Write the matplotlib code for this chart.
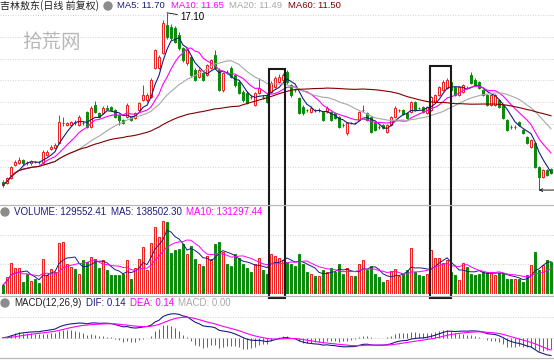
"""
Daily K-line chart for 吉林敖东 with MA lines, volume and MACD panels.
Run: python plot.py
"""

import numpy as np
import pandas as pd
import matplotlib

matplotlib.use("Agg")
import matplotlib.pyplot as plt
from matplotlib.patches import Rectangle, Ellipse

# --- data ---
open_ = [
    9.32, 9.27, 9.50, 10.10, 10.19, 10.33, 10.20, 10.19, 10.25, 10.24,
    10.19, 10.56, 10.84, 10.88, 11.11, 12.03, 11.94, 11.94, 12.05, 11.94,
    12.05, 12.54, 11.85, 12.86, 12.49, 12.49, 12.72, 12.77, 12.63, 12.40,
    12.17, 12.31, 12.31, 12.26, 12.63, 13.09, 13.09, 13.23, 14.56, 14.56,
    15.25, 16.54, 16.45, 16.40, 16.08, 15.48, 14.79, 15.07, 14.47, 14.15,
    14.33, 14.24, 14.56, 15.16, 14.47, 13.55, 14.38, 14.56, 14.24, 13.92,
    13.46, 13.41, 13.24, 12.86, 13.41, 13.24, 13.32, 13.46, 13.69, 13.92,
    14.01, 14.38, 13.78, 13.56, 13.18, 12.77, 12.64, 12.54, 12.64, 12.62,
    12.54, 12.54, 12.54, 12.49, 12.31, 11.95, 11.57, 12.03, 12.05, 12.17,
    12.62, 12.49, 12.31, 12.03, 11.86, 11.94, 11.62, 11.94, 12.31, 12.62,
    12.63, 12.49, 12.54, 13.00, 12.73, 12.77, 12.49, 12.63, 13.00, 13.32,
    13.55, 13.64, 13.92, 13.69, 13.32, 13.46, 13.65, 14.24, 14.01, 13.92,
    13.55, 13.32, 12.86, 12.86, 13.09, 12.86, 12.17, 11.86, 11.84, 12.08,
    11.71, 11.39, 10.93, 11.11, 10.01, 9.55, 9.87, 9.92,
]
close = [
    9.18, 9.50, 10.01, 10.24, 10.33, 10.19, 10.19, 10.28, 10.24, 10.22,
    10.70, 10.70, 10.93, 11.02, 12.08, 12.05, 12.03, 12.08, 12.03, 12.31,
    12.03, 11.85, 12.72, 12.54, 12.31, 12.72, 12.70, 12.63, 12.31, 12.17,
    12.05, 12.86, 12.17, 12.49, 12.95, 13.32, 13.32, 14.01, 15.39, 15.07,
    16.63, 15.99, 15.94, 15.76, 15.48, 14.93, 15.39, 14.24, 14.01, 14.47,
    14.01, 14.70, 14.93, 14.56, 13.55, 14.33, 14.36, 14.15, 13.78, 13.41,
    13.09, 12.95, 13.22, 13.41, 13.64, 13.22, 13.00, 13.87, 14.10, 14.15,
    14.24, 13.92, 13.32, 13.54, 12.49, 12.49, 12.62, 12.72, 12.62, 12.64,
    12.17, 12.72, 12.17, 12.26, 11.85, 11.93, 12.03, 12.05, 12.03, 12.54,
    12.64, 12.17, 11.62, 11.71, 11.84, 11.80, 11.94, 12.31, 12.72, 12.64,
    12.45, 12.26, 13.00, 12.63, 12.71, 12.54, 12.77, 13.23, 13.32, 13.69,
    13.92, 14.01, 13.55, 13.32, 13.69, 13.78, 13.63, 13.87, 13.78, 13.64,
    13.32, 12.86, 13.32, 13.32, 12.77, 12.26, 11.71, 11.84, 11.86, 11.94,
    11.57, 11.11, 11.25, 10.01, 9.55, 9.87, 9.64, 9.74,
]
high = [
    9.41, 9.55, 10.05, 10.35, 10.45, 10.40, 10.28, 10.33, 10.30, 10.30,
    10.80, 10.78, 11.02, 11.10, 12.40, 12.30, 12.10, 12.12, 12.15, 12.40,
    12.12, 12.60, 12.80, 13.05, 12.55, 12.80, 12.85, 12.82, 12.70, 12.45,
    12.22, 12.95, 12.36, 12.55, 13.00, 13.78, 13.40, 14.10, 15.45, 15.15,
    16.75, 17.10, 16.60, 16.50, 16.20, 15.55, 15.45, 15.15, 14.55, 14.55,
    14.40, 14.75, 15.00, 15.40, 14.55, 14.40, 14.45, 14.65, 14.30, 14.00,
    13.55, 13.50, 13.30, 13.46, 14.10, 13.30, 13.40, 13.95, 14.20, 14.30,
    14.35, 14.45, 13.85, 13.62, 13.25, 12.85, 12.70, 12.80, 12.70, 12.72,
    12.60, 12.80, 12.60, 12.55, 12.36, 12.02, 12.08, 12.10, 12.10, 12.60,
    12.86, 12.55, 12.36, 12.08, 11.92, 12.00, 12.00, 12.36, 12.80, 12.70,
    12.68, 12.54, 13.05, 13.05, 12.78, 12.82, 12.82, 13.28, 13.38, 13.75,
    14.00, 14.10, 14.05, 13.75, 13.75, 13.85, 13.72, 14.38, 14.10, 13.98,
    13.60, 13.38, 13.38, 13.38, 13.15, 12.92, 12.22, 11.92, 11.92, 12.12,
    11.76, 11.45, 11.30, 11.16, 10.06, 9.92, 9.92, 9.98,
]
low = [
    9.10, 9.22, 9.45, 10.05, 10.15, 10.12, 10.10, 10.12, 10.18, 10.15,
    10.15, 10.50, 10.80, 10.84, 11.05, 11.90, 11.88, 11.90, 11.95, 11.90,
    11.95, 11.80, 11.80, 12.50, 12.25, 12.45, 12.62, 12.58, 12.26, 11.95,
    12.00, 12.26, 12.12, 12.22, 12.58, 13.05, 13.02, 13.18, 14.50, 14.50,
    15.20, 15.90, 15.85, 15.70, 15.40, 14.85, 14.70, 14.15, 13.95, 14.10,
    13.95, 14.20, 14.50, 14.50, 13.50, 13.45, 14.30, 14.10, 13.70, 13.35,
    13.02, 12.90, 13.15, 12.80, 13.36, 13.15, 12.95, 13.40, 13.64, 13.88,
    13.95, 13.85, 13.25, 13.48, 12.45, 12.42, 12.55, 12.50, 12.55, 12.56,
    12.12, 12.50, 12.12, 12.20, 11.80, 11.86, 11.48, 11.97, 11.97, 12.12,
    12.55, 12.12, 11.57, 11.66, 11.78, 11.75, 11.57, 11.90, 12.26, 12.55,
    12.40, 12.20, 12.50, 12.58, 12.66, 12.50, 12.45, 12.58, 12.95, 13.28,
    13.50, 13.60, 13.50, 13.28, 13.28, 13.42, 13.58, 13.82, 13.74, 13.60,
    13.28, 12.82, 12.82, 12.82, 12.72, 12.20, 11.66, 11.78, 11.78, 11.88,
    11.52, 11.05, 10.88, 9.95, 8.95, 9.50, 9.58, 9.70,
]
# volume in thousands of shares
volume_k = [
    36, 68, 124, 104, 104, 48, 80, 52, 60, 44,
    140, 76, 100, 88, 204, 208, 120, 108, 100, 80,
    136, 128, 148, 140, 104, 136, 96, 76, 76, 76,
    80, 136, 60, 104, 140, 188, 96, 204, 268, 228,
    292, 288, 164, 176, 180, 200, 160, 192, 140, 120,
    112, 152, 140, 200, 208, 168, 120, 112, 160, 144,
    120, 104, 88, 120, 144, 96, 80, 160, 152, 144,
    136, 128, 120, 112, 160, 120, 88, 80, 72, 72,
    96, 88, 104, 88, 120, 80, 104, 72, 72, 120,
    136, 96, 112, 80, 68, 48, 56, 92, 100, 72,
    80, 96, 184, 88, 76, 72, 80, 176, 144, 144,
    124, 136, 88, 76, 56, 124, 108, 80, 76, 80,
    88, 88, 84, 76, 84, 84, 60, 60, 60, 60,
    48, 76, 116, 168, 96, 116, 136, 130,
]

# highlighted boxes: (first candle edge, last candle edge, top price)
boxes = [(66.5, 70.5, 14.52), (106.75, 112.0, 14.65)]

RED = "#ee1c1c"
GREEN = "#0a8a0a"
NAVY = "#1c1c80"
MAGENTA = "#ff00ff"
GREY = "#a8a8a8"
BROWN = "#800000"
GRID = "#c4c4c4"

plt.rcParams["font.family"] = ["Liberation Sans", "Noto Sans CJK SC"]

df = pd.DataFrame({"open": open_, "close": close, "high": high,
                   "low": low, "vol": volume_k})
n = len(df)
x = np.arange(n)
up = (df["close"] >= df["open"]).to_numpy()
edge = np.where(up, RED, GREEN)
face = np.where(up, "white", GREEN)

W, H = 554, 363
fig = plt.figure(figsize=(W / 100, H / 100), dpi=100)


def px_axes(top, bottom):
    a = fig.add_axes([0, 1 - bottom / H, 1, (bottom - top) / H])
    a.set_axis_off()
    a.set_xlim(-0.75, 137.75)
    return a


ax = px_axes(0, 204)
axv = px_axes(205, 294)
axm = px_axes(297, 358)

# --- price panel ---
ax.set_ylim(8.31, 17.69)
for p in range(9, 18):
    ax.axhline(p, color=GRID, lw=0.6, ls=(0, (1, 2)), zorder=0)

ax.vlines(x, df["low"], df["high"], colors=edge, lw=0.7, zorder=2)
body = (df["close"] - df["open"]).abs().clip(lower=0.015)
ax.bar(x, body, bottom=df[["open", "close"]].min(axis=1), width=0.72,
       color=face, edgecolor=edge, lw=0.7, zorder=3)

ma_cfg = [(5, NAVY), (10, MAGENTA), (20, GREY), (60, BROWN)]
for win, col in ma_cfg:
    ax.plot(x, df["close"].rolling(win, min_periods=1).mean(),
            color=col, lw=0.8, zorder=4)

ax.annotate("17.10", xy=(41, 17.10), xytext=(44.3, 16.91), fontsize=7,
            va="center", ha="left",
            arrowprops=dict(arrowstyle="-", lw=0.6, color="black",
                            shrinkA=0, shrinkB=0))
ax.annotate("", xy=(134, 8.95), xytext=(137.9, 8.95),
            arrowprops=dict(arrowstyle="->", lw=0.6, color="black",
                            shrinkA=0, shrinkB=0, mutation_scale=5))

# --- volume panel ---
vtop = 356
axv.set_ylim(0, vtop)
for f in (1 / 3, 2 / 3):
    axv.axhline(vtop * f, color=GRID, lw=0.6, ls=(0, (1, 2)), zorder=0)
vface = np.where(up, "#ffc8c8", GREEN)
axv.bar(x, df["vol"], width=0.72, color=vface, edgecolor=edge, lw=0.7,
        zorder=2)
axv.plot(x, df["vol"].rolling(5, min_periods=1).mean(), color=NAVY, lw=0.7,
         zorder=3)
axv.plot(x, df["vol"].rolling(10, min_periods=1).mean(), color=MAGENTA,
         lw=0.7, zorder=3)

# --- MACD panel ---
ema12 = df["close"].ewm(span=12, adjust=False).mean()
ema26 = df["close"].ewm(span=26, adjust=False).mean()
dif = ema12 - ema26
dea = dif.ewm(span=9, adjust=False).mean()
hist = 2 * (dif - dea)
a = 0.85 * dif.max()
axm.set_ylim(-a, 2 * a)
axm.axhline(a, color=GRID, lw=0.6, ls=(0, (1, 2)), zorder=0)
axm.axhline(0, color=GRID, lw=0.6, ls=(0, (1, 2)), zorder=0)
axm.vlines(x, 0, hist, colors=np.where(hist >= 0, "#c83232", "#2e8b2e"),
           lw=0.7, zorder=2)
axm.plot(x, dif, color=NAVY, lw=0.8, zorder=3)
axm.plot(x, dea, color=MAGENTA, lw=0.8, zorder=3)

# --- panel separators ---
for yp in (205, 296, 358):
    fig.add_artist(plt.Line2D([0, 1], [1 - yp / H] * 2,
                              transform=fig.transFigure, color="#b8b8b8",
                              lw=0.9))

# --- highlight boxes spanning price and volume panels ---
to_fig = fig.transFigure.inverted()
for i0, i1, ptop in boxes:
    x0, y1 = to_fig.transform(ax.transData.transform((i0, ptop)))
    x1, y0 = to_fig.transform(axv.transData.transform((i1, -16)))
    fig.add_artist(Rectangle((x0, y0), x1 - x0, y1 - y0, fill=False,
                             edgecolor="#1a1a1a", lw=1.5,
                             transform=fig.transFigure))


# --- header texts ---
def ftext(xp, yp, s, color="#222222", size=7, **kw):
    fig.text(xp / W, 1 - yp / H, s, color=color, fontsize=size,
             va="center", ha="left", **kw)


def icon(xp, yp):
    fig.add_artist(Ellipse((xp / W, 1 - yp / H), 8 / W, 8 / H,
                           color="#8c8c8c", transform=fig.transFigure))


ftext(0, 6, "吉林敖东(日线 前复权)", family=["Noto Sans CJK SC"], size=7.2)
icon(108, 6)
ftext(117, 6, "MA5: 11.70", NAVY, size=6.8)
ftext(171, 6, "MA10: 11.65", MAGENTA, size=6.8)
ftext(229, 6, "MA20: 11.49", GREY, size=6.8)
ftext(288, 6, "MA60: 11.50", BROWN, size=6.8)

ftext(22, 42, "拾荒网", "#b8b8b8", size=14, family=["Noto Sans CJK SC"],
      style="italic")

icon(5, 212)
ftext(14, 212, "VOLUME: 129552.41", NAVY)
ftext(111, 212, "MA5: 138502.30", NAVY)
ftext(186, 212, "MA10: 131297.44", MAGENTA)

icon(5, 303)
ftext(14, 303, "MACD(12,26,9)", "#222222")
ftext(86, 303, "DIF: 0.14", NAVY)
ftext(130, 303, "DEA: 0.14", MAGENTA)
ftext(178, 303, "MACD: 0.00", GREY)

fig.savefig("out.png", dpi=100)
plt.close(fig)
